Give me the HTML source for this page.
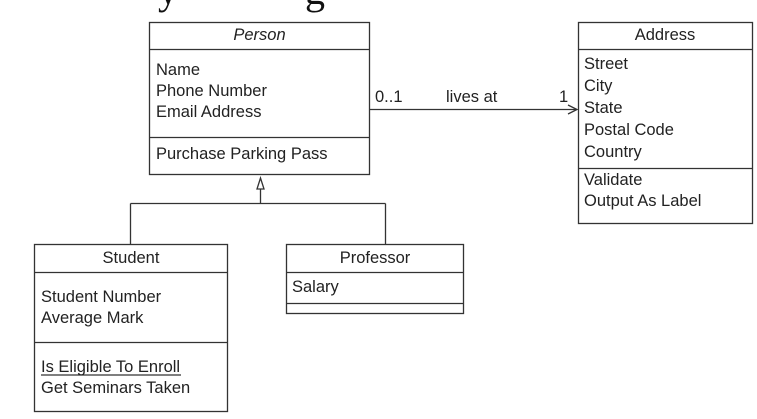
<!DOCTYPE html>
<html><head><meta charset="utf-8"><style>
html,body{margin:0;padding:0;background:#fff;}
svg{display:block;}
text{font-family:"Liberation Sans",Arial,sans-serif;font-size:16.5px;fill:#222;}
</style></head><body>
<svg width="757" height="419" viewBox="0 0 757 419" xmlns="http://www.w3.org/2000/svg">
<text x="158" y="4" style="font-family:'Liberation Serif',serif;font-size:40px;fill:#111">y</text>
<text x="305" y="4" style="font-family:'Liberation Serif',serif;font-size:40px;fill:#111">g</text>
<g fill="none" stroke="#333" stroke-width="1.3">
<rect x="149.5" y="22.5" width="220" height="152"/>
<line x1="149.5" y1="49.5" x2="369.5" y2="49.5"/>
<line x1="149.5" y1="137.5" x2="369.5" y2="137.5"/>
<rect x="578.5" y="22.5" width="174" height="201"/>
<line x1="578.5" y1="49.5" x2="752.5" y2="49.5"/>
<line x1="578.5" y1="168.5" x2="752.5" y2="168.5"/>
<rect x="34.5" y="244.5" width="193" height="167"/>
<line x1="34.5" y1="272.5" x2="227.5" y2="272.5"/>
<line x1="34.5" y1="342.5" x2="227.5" y2="342.5"/>
<rect x="286.5" y="244.5" width="177" height="69"/>
<line x1="286.5" y1="272.5" x2="463.5" y2="272.5"/>
<line x1="286.5" y1="303.5" x2="463.5" y2="303.5"/>
<line x1="369.5" y1="109.5" x2="577" y2="109.5"/>
<polyline points="568,105 577,109.5 568,114"/>
<polygon points="260.5,178 257,189 264,189"/>
<line x1="260.5" y1="189" x2="260.5" y2="203.5"/>
<line x1="130.5" y1="203.5" x2="385.5" y2="203.5"/>
<line x1="130.5" y1="203.5" x2="130.5" y2="244"/>
<line x1="385.5" y1="203.5" x2="385.5" y2="244"/>
<line x1="41" y1="375" x2="181" y2="375"/>
</g>
<text x="259.5" y="40" text-anchor="middle" font-style="italic">Person</text>
<text x="156" y="75">Name</text>
<text x="156" y="96">Phone Number</text>
<text x="156" y="117">Email Address</text>
<text x="156" y="159">Purchase Parking Pass</text>
<text x="665" y="40" text-anchor="middle">Address</text>
<text x="584" y="69">Street</text>
<text x="584" y="91">City</text>
<text x="584" y="113">State</text>
<text x="584" y="135">Postal Code</text>
<text x="584" y="157">Country</text>
<text x="584" y="185">Validate</text>
<text x="584" y="206">Output As Label</text>
<text x="375" y="102">0..1</text>
<text x="446" y="102">lives at</text>
<text x="559" y="102">1</text>
<text x="131" y="263" text-anchor="middle">Student</text>
<text x="41" y="302">Student Number</text>
<text x="41" y="323">Average Mark</text>
<text x="41" y="372">Is Eligible To Enroll</text>
<text x="41" y="393">Get Seminars Taken</text>
<text x="375" y="263" text-anchor="middle">Professor</text>
<text x="292" y="292">Salary</text>
</svg>
</body></html>
